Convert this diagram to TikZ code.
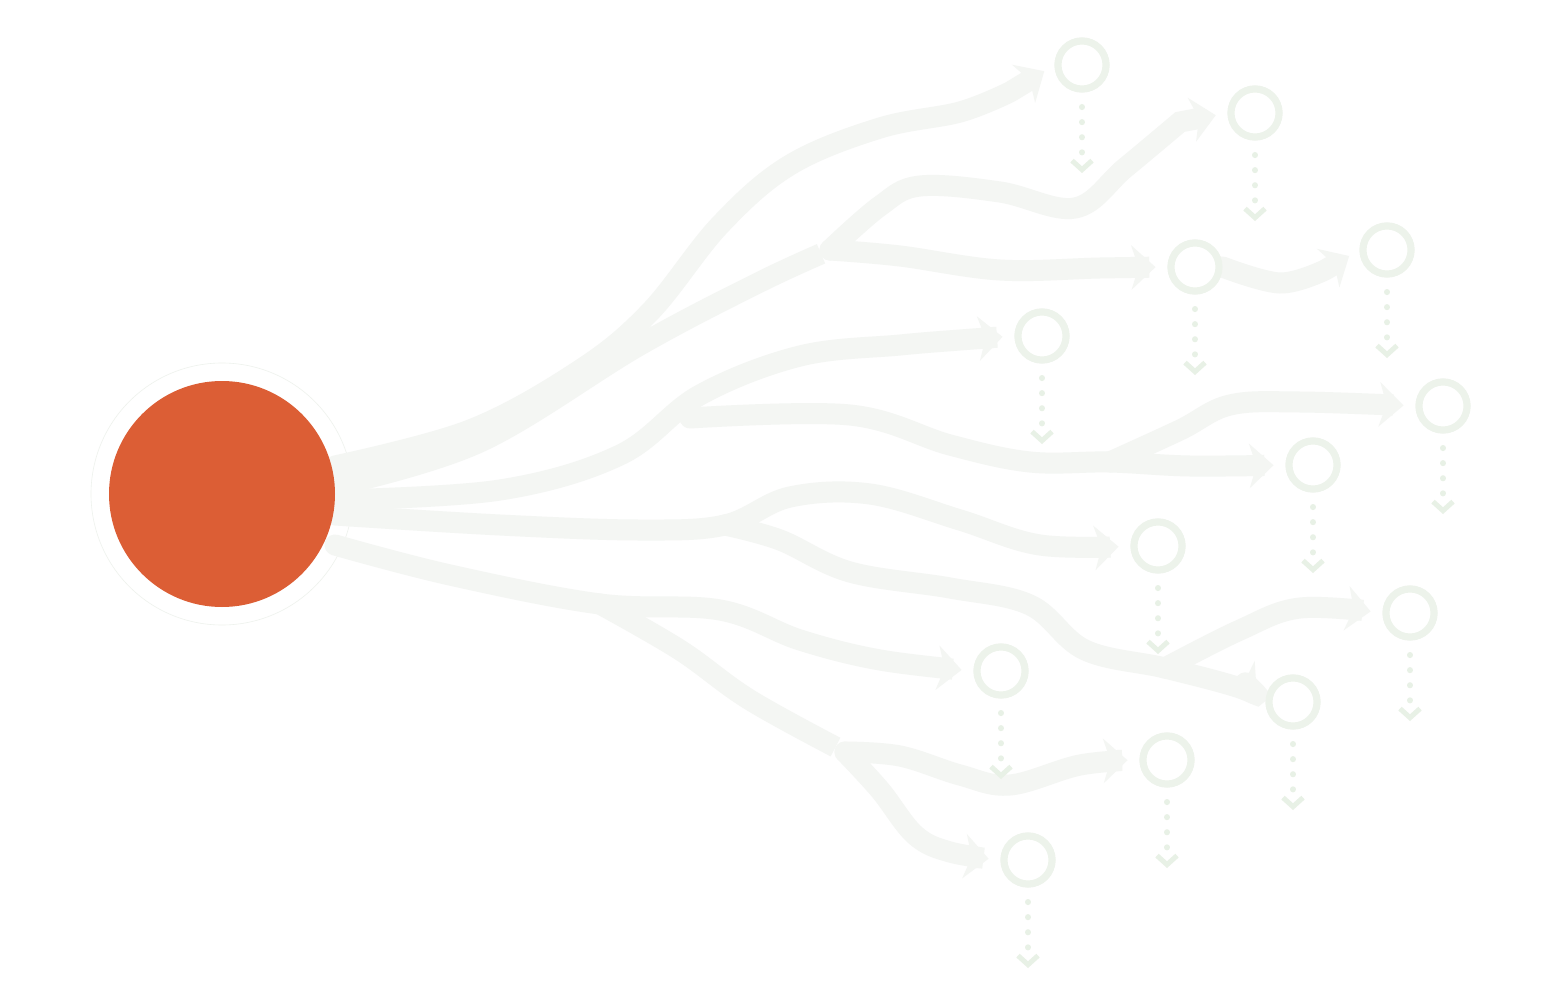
\documentclass[tikz,border=0pt]{standalone}
\usetikzlibrary{arrows.meta}
\definecolor{orangefill}{HTML}{DC5E35}
\definecolor{bandcol}{HTML}{F4F6F3}
\definecolor{bandedge}{HTML}{EEF2ED}
\definecolor{ringcol}{HTML}{EDF3EB}
\definecolor{dotcol}{HTML}{E8F1E6}
\tikzset{
  band/.style={draw=bandcol, line width=21pt, line cap=round,
    -{Stealth[length=24pt,width=44pt,inset=7pt]}, shorten >=12pt},
  ring/.style={circle, draw=ringcol, line width=7pt, minimum size=48pt, inner sep=0pt},
  dropdots/.style={draw=dotcol, line width=6pt, line cap=round,
    dash pattern=on 0.1pt off 15pt,
    -{Straight Barb[length=9pt,width=20pt,line width=5pt]}},
  source/.style={circle, fill=orangefill, minimum size=226pt, inner sep=0pt},
  halo/.style={circle, draw=bandedge, line width=0.6pt, fill=white, minimum size=262pt}
}
\begin{document}
\begin{tikzpicture}[x=1pt,y=-1pt]
\useasboundingbox[fill=white] (0,0) rectangle (1568,1003);
\node[halo] (halo) at (222,494) {};
% rings
\node[ring] (n1) at (1082,65) {};
\node[ring] (n2) at (1255,113) {};
\node[ring] (n3) at (1387,250) {};
\node[ring] (n4) at (1195,267) {};
\node[ring] (n5) at (1042,336) {};
\node[ring] (n6) at (1443,406) {};
\node[ring] (n7) at (1313,465) {};
\node[ring] (n8) at (1158,546) {};
\node[ring] (n9) at (1410,613) {};
\node[ring] (n10) at (1001,671) {};
\node[ring] (n11) at (1293,702) {};
\node[ring] (n12) at (1167,760) {};
\node[ring] (n13) at (1028,860) {};
% branch points
\coordinate (j1) at (830,250);
\coordinate (j2) at (690,418);
\coordinate (j3) at (1110,462);
\coordinate (j4) at (725,525);
\coordinate (j5) at (1165,668);
\coordinate (j6) at (600,604);
\coordinate (j7) at (845,752);
% bands
\draw[band] plot[smooth,tension=0.6] coordinates {(335,466) (470,430) (580,370) (650,312) (720,225) (790,165) (880,128) (960,112) (1010,92)} -- (n1.west);
\draw[band,-] plot[smooth,tension=0.6] coordinates {(335,486) (480,442) (640,345) (760,282) (j1)};
\draw[band] plot[smooth,tension=0.6] coordinates {(j1) (900,256) (1000,270) (1100,268) (n4.west)};
\draw[band] plot[smooth,tension=0.6] coordinates {(j1) (880,206) (920,186) (1000,192) (1075,208) (1125,168) (1180,122)} -- (n2.west);
\draw[band] plot[smooth,tension=0.6] coordinates {(n4.east) (1280,283) (1325,270)} -- (n3.west);
\draw[band] plot[smooth,tension=0.6] coordinates {(335,500) (500,490) (620,455) (700,395) (800,356) (900,345) (960,340) (n5.west)};
\draw[band] plot[smooth,tension=0.6] coordinates {(j2) (850,415) (950,445) (1030,462) (j3) (1190,466) (n7.west)};
\draw[band] plot[smooth,tension=0.6] coordinates {(j3) (1180,430) (1230,405) (1300,402) (n6.west)};
\draw[band] plot[smooth,tension=0.6] coordinates {(335,515) (500,525) (640,530) (j4) (790,497) (870,494) (960,520) (1040,545) (n8.west)};
\draw[band] plot[smooth,tension=0.6] coordinates {(j4) (780,540) (850,572) (950,588) (1030,605) (1085,650) (j5) (1240,688) (n11.west)};
\draw[band] plot[smooth,tension=0.6] coordinates {(j5) (1240,630) (1300,608) (n9.west)};
\draw[band] plot[smooth,tension=0.6] coordinates {(335,545) (450,575) (j6) (720,610) (800,640) (880,660) (n10.west)};
\draw[band,-] plot[smooth,tension=0.6] coordinates {(j6) (680,650) (750,700) (j7)};
\draw[band] plot[smooth,tension=0.6] coordinates {(j7) (900,756) (960,775) (1010,785) (1080,765) (n12.west)};
\draw[band] plot[smooth,tension=0.6] coordinates {(j7) (880,790) (915,835) (950,852) (n13.west)};
\node[source] (src) at (222,494) {};
% rings on top, with dotted drops
\foreach \n in {n1,n2,n3,n4,n5,n6,n7,n8,n9,n10,n11,n12,n13}{
  \draw[draw=ringcol, line width=7pt, fill=white] (\n) circle (24pt);
  \coordinate (\n-end) at ([yshift=-108pt]\n.center);
  \draw[dropdots] ([yshift=-42pt]\n.center) -- (\n-end);
}
\end{tikzpicture}
\end{document}
